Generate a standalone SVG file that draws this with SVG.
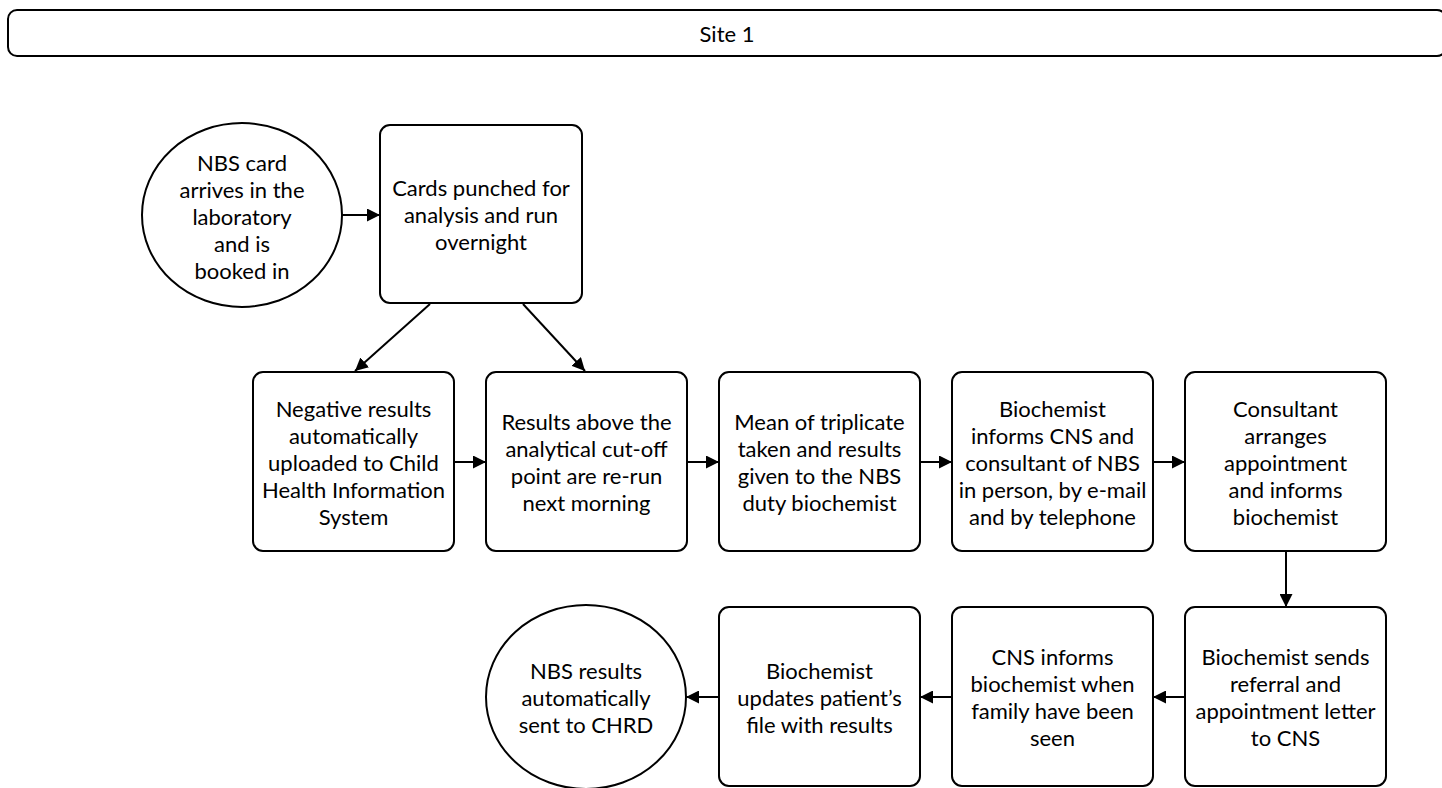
<svg xmlns="http://www.w3.org/2000/svg" width="1442" height="788" viewBox="0 0 1442 788">
  <style>
    .shape { fill: #ffffff; stroke: #000000; stroke-width: 2; }
    .label { font-family: Lato, "Liberation Sans", sans-serif; font-size: 22px; fill: #000000; text-anchor: middle; dominant-baseline: central; }
    .edge { fill: none; stroke: #000000; stroke-width: 2; marker-end: url(#arrow); }
  </style>
  <defs>
    <marker id="arrow" markerUnits="userSpaceOnUse" markerWidth="13" markerHeight="13" viewBox="0 0 13 13" refX="13" refY="6.5" orient="auto">
      <path d="M0,0 L13,6.5 L0,13 z" fill="#000000"/>
    </marker>
  </defs>
  <rect width="1442" height="788" fill="#ffffff"/>

  <!-- Lane header -->
  <g id="lane-header">
    <rect class="shape" x="8" y="10" width="1438" height="46" rx="9"/>
    <text class="label" x="727" y="33">Site 1</text>
  </g>

  <!-- Top row -->
  <g id="node-card-arrives">
    <ellipse class="shape" cx="242" cy="215" rx="100" ry="92"/>
    <text class="label" x="242"><tspan x="242" y="162">NBS card</tspan><tspan x="242" y="189">arrives in the</tspan><tspan x="242" y="216">laboratory</tspan><tspan x="242" y="243">and is</tspan><tspan x="242" y="270">booked in</tspan></text>
  </g>
  <g id="node-cards-punched">
    <rect class="shape" x="380" y="125" width="202" height="178" rx="10"/>
    <text class="label"><tspan x="481" y="187">Cards punched for</tspan><tspan x="481" y="214">analysis and run</tspan><tspan x="481" y="241">overnight</tspan></text>
  </g>

  <!-- Middle row -->
  <g id="node-negative">
    <rect class="shape" x="253" y="372" width="201" height="179" rx="10"/>
    <text class="label"><tspan x="353.5" y="407.5">Negative results</tspan><tspan x="353.5" y="434.5">automatically</tspan><tspan x="353.5" y="461.5">uploaded to Child</tspan><tspan x="353.5" y="488.5">Health Information</tspan><tspan x="353.5" y="515.5">System</tspan></text>
  </g>
  <g id="node-rerun">
    <rect class="shape" x="486" y="372" width="201" height="179" rx="10"/>
    <text class="label"><tspan x="586.5" y="421">Results above the</tspan><tspan x="586.5" y="448">analytical cut-off</tspan><tspan x="586.5" y="475">point are re-run</tspan><tspan x="586.5" y="502">next morning</tspan></text>
  </g>
  <g id="node-mean">
    <rect class="shape" x="719" y="372" width="201" height="179" rx="10"/>
    <text class="label"><tspan x="819.5" y="421">Mean of triplicate</tspan><tspan x="819.5" y="448">taken and results</tspan><tspan x="819.5" y="475">given to the NBS</tspan><tspan x="819.5" y="502">duty biochemist</tspan></text>
  </g>
  <g id="node-informs">
    <rect class="shape" x="952" y="372" width="201" height="179" rx="10"/>
    <text class="label"><tspan x="1052.5" y="407.5">Biochemist</tspan><tspan x="1052.5" y="434.5">informs CNS and</tspan><tspan x="1052.5" y="461.5">consultant of NBS</tspan><tspan x="1052.5" y="488.5">in person, by e-mail</tspan><tspan x="1052.5" y="515.5">and by telephone</tspan></text>
  </g>
  <g id="node-consultant">
    <rect class="shape" x="1185" y="372" width="201" height="179" rx="10"/>
    <text class="label"><tspan x="1285.5" y="407.5">Consultant</tspan><tspan x="1285.5" y="434.5">arranges</tspan><tspan x="1285.5" y="461.5">appointment</tspan><tspan x="1285.5" y="488.5">and informs</tspan><tspan x="1285.5" y="515.5">biochemist</tspan></text>
  </g>

  <!-- Bottom row -->
  <g id="node-referral">
    <rect class="shape" x="1185" y="607" width="201" height="179" rx="10"/>
    <text class="label"><tspan x="1285.5" y="656">Biochemist sends</tspan><tspan x="1285.5" y="683">referral and</tspan><tspan x="1285.5" y="710">appointment letter</tspan><tspan x="1285.5" y="737">to CNS</tspan></text>
  </g>
  <g id="node-family-seen">
    <rect class="shape" x="952" y="607" width="201" height="179" rx="10"/>
    <text class="label"><tspan x="1052.5" y="656">CNS informs</tspan><tspan x="1052.5" y="683">biochemist when</tspan><tspan x="1052.5" y="710">family have been</tspan><tspan x="1052.5" y="737">seen</tspan></text>
  </g>
  <g id="node-updates">
    <rect class="shape" x="719" y="607" width="201" height="179" rx="10"/>
    <text class="label"><tspan x="819.5" y="669.5">Biochemist</tspan><tspan x="819.5" y="696.5">updates patient’s</tspan><tspan x="819.5" y="723.5">file with results</tspan></text>
  </g>
  <g id="node-sent-chrd">
    <ellipse class="shape" cx="586" cy="697" rx="100" ry="92"/>
    <text class="label"><tspan x="586" y="670">NBS results</tspan><tspan x="586" y="697">automatically</tspan><tspan x="586" y="724">sent to CHRD</tspan></text>
  </g>

  <!-- Connectors -->
  <g id="connectors">
    <line class="edge" x1="342" y1="215" x2="380" y2="215"/>
    <line class="edge" x1="430" y1="304" x2="355" y2="371"/>
    <line class="edge" x1="523" y1="304" x2="585" y2="371"/>
    <line class="edge" x1="454" y1="462" x2="486" y2="462"/>
    <line class="edge" x1="687" y1="462" x2="719" y2="462"/>
    <line class="edge" x1="920" y1="462" x2="952" y2="462"/>
    <line class="edge" x1="1153" y1="462" x2="1185" y2="462"/>
    <line class="edge" x1="1286" y1="551" x2="1286" y2="607"/>
    <line class="edge" x1="1185" y1="697" x2="1153" y2="697"/>
    <line class="edge" x1="952" y1="697" x2="920" y2="697"/>
    <line class="edge" x1="719" y1="697" x2="686" y2="697"/>
  </g>
</svg>
